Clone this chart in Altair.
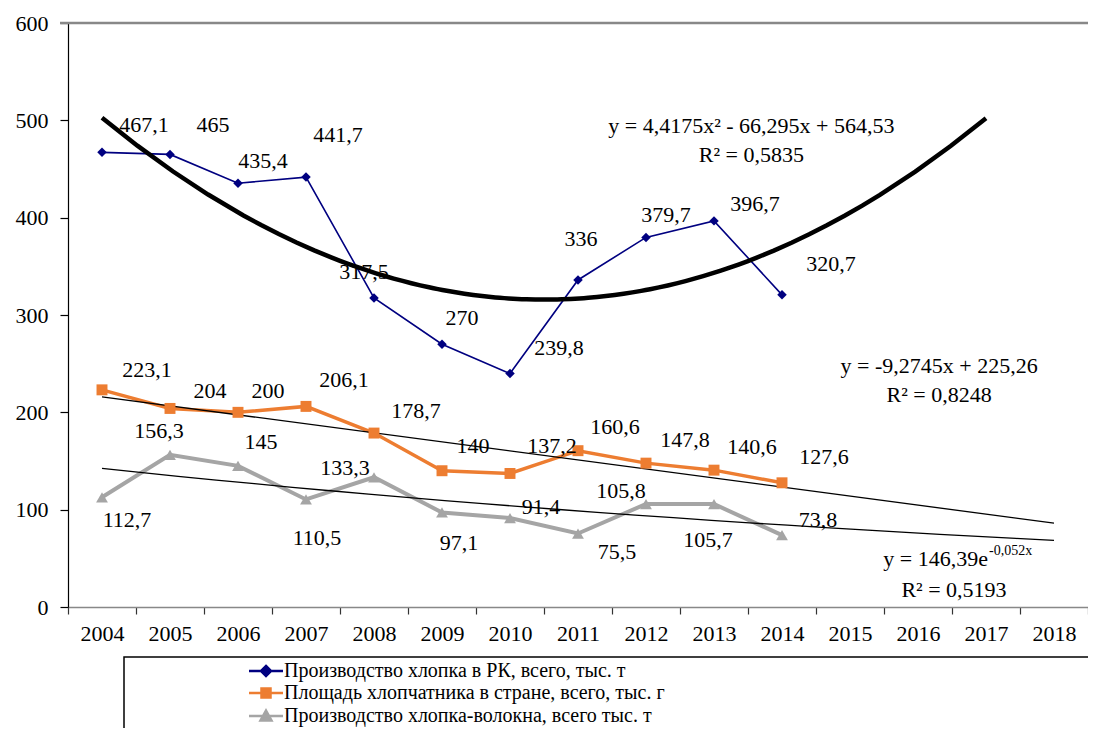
import altair as alt
import pandas as pd

# ---------------- data ----------------
years = [2004, 2005, 2006, 2007, 2008, 2009, 2010, 2011, 2012, 2013, 2014, 2015, 2016, 2017, 2018]
data_years = [2004, 2005, 2006, 2007, 2008, 2009, 2010, 2011, 2012, 2013, 2014]

names = [
    "Производство хлопка в РК, всего, тыс. т",
    "Площадь хлопчатника  в стране, всего, тыс. г",
    "Производство  хлопка-волокна, всего тыс. т",
]
prod = [467.1, 465, 435.4, 441.7, 317.5, 270, 239.8, 336, 379.7, 396.7, 320.7]
area = [223.1, 204, 200, 206.1, 178.7, 140, 137.2, 160.6, 147.8, 140.6, 127.6]
fiber = [112.7, 156.3, 145, 110.5, 133.3, 97.1, 91.4, 75.5, 105.8, 105.7, 73.8]

# data-label offsets (pixels) as placed in the original
prod_dx = [42, 43, 25, 32, -10, 20, 49, 3, 20, 41, 49]
prod_dy = [-27, -29, -22, -42, -26, -26, -26, -41, -22, -17, -31]
area_dx = [45, 40, 30, 38, 42, 31, 42, 37, 39, 38, 42]
area_dy = [-20, -17, -21, -26, -22, -25, -27, -24, -23, -23, -26]
fiber_dx = [25, -11, 23, 11, -29, 17, 31, 39, -25, -6, 36]
fiber_dy = [23, -24, -24, 39, -9, 31, -11, 18, -13, 36, -15]

# trend-equation annotations (text, x in category units, y in value units)
eq_text = ["y = 4,4175x² - 66,295x + 564,53", "R² = 0,5835",
           "y = -9,2745x + 225,26", "R² = 0,8248", "R² = 0,5193"]
eq_x = [10.55, 10.55, 13.31, 13.31, 13.53]
eq_y = [494, 464, 248, 218, 17.5]
exp_base = "y = 146,39e"
exp_power = "-0,052x"
exp_x = [14.03]
exp_y = [49.3]

colors = ["#000080", "#ED7D31", "#A5A5A5"]

# ---------------- layout constants ----------------
W, H = 1020, 584
STEP = W / len(years)
FONT = "Liberation Serif"

rows = []
for name, vals, dxs, dys in zip(names, [prod, area, fiber],
                                [prod_dx, area_dx, fiber_dx],
                                [prod_dy, area_dy, fiber_dy]):
    for i, (yr, v) in enumerate(zip(data_years, vals)):
        rows.append({
            "series": name,
            "idx": years.index(yr) + 1,
            "v": v,
            "label": f"{v:g}".replace(".", ","),
            "dx": dxs[i],
            "dy": dys[i],
        })
df = pd.DataFrame(rows)

boundaries = [i + 0.5 for i in range(len(years) + 1)]

sx = alt.Scale(domain=[0.5, len(years) + 0.5], nice=False, zero=False)
sy = alt.Scale(domain=[0, 600], nice=False)

x_axis = alt.Axis(
    values=boundaries, title=None, grid=False,
    labelExpr=f"datum.value < {len(years)} ? toString(datum.value + {years[0] - 0.5}) : ''",
    labelOffset=STEP / 2, labelFlush=False, labelOverlap=False, labelBound=False,
    labelFont=FONT, labelFontSize=22, labelColor="black", labelPadding=9,
    tickSize=7, tickColor="#333", tickWidth=1.2,
    domainColor="#888", domainWidth=1.5,
)
y_axis = alt.Axis(
    values=[0, 100, 200, 300, 400, 500, 600], title=None, grid=False,
    labelFont=FONT, labelFontSize=22, labelColor="black", labelPadding=12,
    tickSize=8, tickColor="black", tickWidth=1.2,
    domainColor="black", domainWidth=1.2,
)


def X(f):
    return alt.X(f, scale=sx, axis=x_axis)


def Y(f):
    return alt.Y(f, scale=sy, axis=y_axis)


base = alt.Chart(df)
layers = []

# top border line at 600
layers.append(
    alt.Chart(pd.DataFrame({"v": [600]})).mark_rule(color="#888", strokeWidth=2.5)
    .encode(y=Y("v:Q"), x=alt.value(-8), x2=alt.value(W + 20))
)

# series lines
widths = [1.6, 3.5, 4]
for name, c, w in zip(names, colors, widths):
    layers.append(
        base.transform_filter(alt.datum.series == name)
        .mark_line(color=c, strokeWidth=w)
        .encode(x=X("idx:Q"), y=Y("v:Q"))
    )

# trend lines (fitted from the series)
layers.append(
    base.transform_filter(alt.datum.series == names[0])
    .transform_regression("idx", "v", method="poly", order=2, extent=[1, 14])
    .mark_line(color="black", strokeWidth=4.5)
    .encode(x=X("idx:Q"), y=Y("v:Q"))
)
layers.append(
    base.transform_filter(alt.datum.series == names[1])
    .transform_regression("idx", "v", method="linear", extent=[1, 15])
    .mark_line(color="black", strokeWidth=1.3)
    .encode(x=X("idx:Q"), y=Y("v:Q"))
)
layers.append(
    base.transform_filter(alt.datum.series == names[2])
    .transform_regression("idx", "v", method="exp", extent=[1, 15])
    .mark_line(color="black", strokeWidth=1.3)
    .encode(x=X("idx:Q"), y=Y("v:Q"))
)

# markers
shapes = ["diamond", "square", "triangle-up"]
sizes = [90, 120, 140]
for name, c, sh, sz in zip(names, colors, shapes, sizes):
    layers.append(
        base.transform_filter(alt.datum.series == name)
        .mark_point(shape=sh, filled=True, size=sz, color=c, opacity=1)
        .encode(x=X("idx:Q"), y=Y("v:Q"))
    )

# data labels
layers.append(
    base.transform_calculate(
        lx=f"datum.idx + datum.dx / {STEP}",
        ly=f"datum.v - datum.dy * 600 / {H}",
    )
    .mark_text(font=FONT, fontSize=22, color="black", align="center", baseline="middle")
    .encode(x=X("lx:Q"), y=Y("ly:Q"), text="label:N")
)

# equation annotations
eq_df = pd.DataFrame({"t": eq_text, "ex": eq_x, "ey": eq_y})
layers.append(
    alt.Chart(eq_df).mark_text(font=FONT, fontSize=22, color="black",
                               align="center", baseline="middle")
    .encode(x=X("ex:Q"), y=Y("ey:Q"), text="t:N")
)
exp_df = pd.DataFrame({"t": [exp_base], "p": [exp_power], "ex": exp_x, "ey": exp_y})
layers.append(
    alt.Chart(exp_df).mark_text(font=FONT, fontSize=22, color="black",
                                align="right", baseline="middle")
    .encode(x=X("ex:Q"), y=Y("ey:Q"), text="t:N")
)
layers.append(
    alt.Chart(exp_df).mark_text(font=FONT, fontSize=14, color="black",
                                align="left", baseline="middle", dx=1, dy=-8)
    .encode(x=X("ex:Q"), y=Y("ey:Q"), text="p:N")
)

# legend frame
layers.append(
    alt.Chart(pd.DataFrame({"a": [0]})).mark_rect(fill=None, stroke="black", strokeWidth=1.5)
    .encode(x=alt.value(56), x2=alt.value(W + 40), y=alt.value(634), y2=alt.value(H + 200))
)

# legend (symbols: line + marker)
paths = [
    "M-3.4,0H3.4M0,-1L1,0L0,1L-1,0Z",
    "M-3.4,0H3.4M-0.9,-0.9H0.9V0.9H-0.9Z",
    "M-3.4,0H3.4M0,-1.1L1.1,0.9H-1.1Z",
]
leg = alt.Legend(
    orient="none", legendX=188, legendY=638, title=None,
    labelFont=FONT, labelFontSize=20, labelColor="black", labelOffset=8,
    labelLimit=900, symbolStrokeWidth=2.5, rowPadding=2, padding=0,
)
layers.append(
    base.transform_filter("false")
    .mark_point(filled=True, size=100, opacity=1)
    .encode(
        x=X("idx:Q"), y=Y("v:Q"),
        fill=alt.Fill("series:N", scale=alt.Scale(domain=names, range=colors), legend=leg),
        stroke=alt.Stroke("series:N", scale=alt.Scale(domain=names, range=colors), legend=leg),
        shape=alt.Shape("series:N", scale=alt.Scale(domain=names, range=paths), legend=leg),
    )
)

chart = alt.layer(*layers).properties(
    width=W, height=H,
    autosize=alt.AutoSizeParams(type="none"),
    padding={"left": 60, "top": 15, "right": 0, "bottom": 121},
    background="white",
).configure_view(stroke=None)

chart.save("out.html", embed_options={"renderer": "svg", "actions": False})
